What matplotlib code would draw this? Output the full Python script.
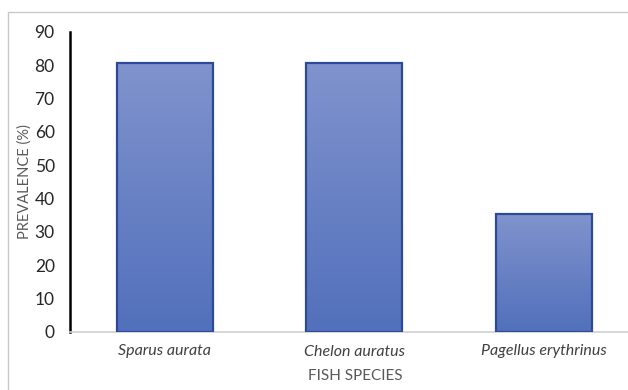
import numpy as np
import matplotlib
matplotlib.use("Agg")
import matplotlib.pyplot as plt
from matplotlib.patches import Rectangle
from matplotlib.colors import LinearSegmentedColormap

species = ["Sparus aurata", "Chelon auratus", "Pagellus erythrinus"]
prevalence = [80.7, 80.7, 35.4]
y_ticks = [0, 10, 20, 30, 40, 50, 60, 70, 80, 90]

plt.rcParams["font.family"] = ["Lato", "DejaVu Sans"]

W, H = 628, 390
fig = plt.figure(figsize=(W / 100, H / 100), dpi=100)

# outer chart-area frame
fig.patches.append(Rectangle((8 / W, -0.05), 1.2, (H - 12) / H + 0.05,
                             transform=fig.transFigure, fill=False,
                             edgecolor="#c8c8c8", linewidth=1.0))

left, right, bottom, top = 70, 628, 332, 32
ax = fig.add_axes([left / W, 1 - bottom / H, (right - left) / W, (bottom - top) / H])

spacing = 189.5  # pixels per category
xmax = -0.5 + (right - left) / spacing

bar_width = 0.507
grad = LinearSegmentedColormap.from_list("bar", ["#5270bb", "#8093cd"])
xs = np.arange(len(species))
bars = ax.bar(xs, prevalence, width=bar_width, facecolor="none",
              edgecolor="#2d4a99", linewidth=1.6, zorder=3)
gradient = np.linspace(0, 1, 256).reshape(-1, 1)
for b in bars:
    x0, y0 = b.get_x(), b.get_y()
    w, h = b.get_width(), b.get_height()
    im = ax.imshow(gradient, extent=(x0, x0 + w, y0, y0 + h), origin="lower",
                   cmap=grad, aspect="auto", zorder=2)
    im.set_clip_path(b)
ax.set_xlim(-0.5, xmax)
ax.set_ylim(0, 90)

ax.set_xticks(xs)
ax.set_xticklabels(species, fontstyle="italic", fontsize=11.5, color="#404040")
ax.set_yticks(y_ticks)
ax.set_yticklabels([str(t) for t in y_ticks], fontsize=12.5, color="#262626")
ax.tick_params(axis="both", length=0)
ax.tick_params(axis="x", pad=9)
ax.tick_params(axis="y", pad=11)

for s in ["top", "right"]:
    ax.spines[s].set_visible(False)
ax.spines["left"].set_color("black")
ax.spines["left"].set_linewidth(1.8)
ax.spines["bottom"].set_color("#d0d0d0")
ax.spines["bottom"].set_linewidth(1.2)

ax.set_xlabel("FISH SPECIES", fontsize=11, color="#595959")
ax.set_ylabel("PREVALENCE (%)", fontsize=10.5, color="#595959")
ax.xaxis.set_label_coords((355 - left) / (right - left), -(369 - bottom) / (bottom - top))
ax.yaxis.set_label_coords(-(left - 32) / (right - left), 0.5)

fig.savefig("out.png", dpi=100)
